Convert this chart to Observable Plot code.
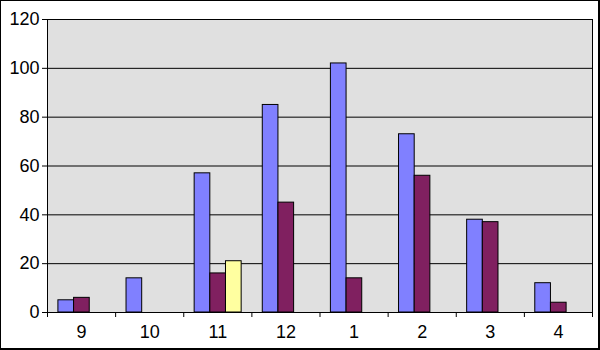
<!DOCTYPE html>
<html><head><meta charset="utf-8">
<script src="https://cdn.jsdelivr.net/npm/d3@7"></script>
<script src="https://cdn.jsdelivr.net/npm/@observablehq/plot@0.6"></script>
<style>
body{margin:0;background:#fff}
#wrap{position:relative;width:600px;height:350px;overflow:hidden}
#border{position:absolute;left:0;top:0;width:600px;height:350px;box-sizing:border-box;border-left:1px solid #000;border-top:1px solid #000;border-right:2px solid #000;border-bottom:2px solid #000;pointer-events:none}
</style></head><body><div id="wrap"><div id="border"></div></div>
<script>
const categories = ["9","10","11","12","1","2","3","4"];
const seriesNames = ["Series1","Series2","Series3"];
const series1 = [5,14,57,85,102,73,38,12];
const series2 = [6,null,16,45,14,56,37,4];
const series3 = [null,null,21,null,null,null,null,null];
const colors = ["#8080FF","#802060","#FFFFA0"];
const yTicks = [0,20,40,60,80,100,120];

const rows = [];
[series1,series2,series3].forEach((vals,s)=>vals.forEach((v,i)=>{
  if (v != null) rows.push({i, s, category: categories[i], series: seriesNames[s], value: v});
}));

const groupStart = 0.16, barW = 0.23;
const chart = Plot.plot({
  width: 600, height: 350,
  marginLeft: 47, marginRight: 8, marginTop: 19, marginBottom: 38,
  style: {fontFamily: "'Liberation Sans', Arial, sans-serif", fontSize: "18px", color: "#000", background: "transparent", overflow: "visible"},
  x: {type: "linear", domain: [0, categories.length]},
  y: {domain: [0, 120]},
  color: {domain: seriesNames, range: colors},
  marks: [
    Plot.frame({fill: "#E0E0E0", stroke: "none"}),
    Plot.ruleY(yTicks, {stroke: "#000", strokeWidth: 1}),
    Plot.rectY(rows, {
      x1: d => d.i + groupStart + d.s * barW,
      x2: d => d.i + groupStart + (d.s + 1) * barW,
      y: "value", fill: "series", stroke: "#000", strokeWidth: 1
    }),
    Plot.frame({stroke: "#000"}),
    Plot.axisY({ticks: yTicks, tickSize: 5, tickPadding: 3, label: null, fontSize: 18}),
    Plot.axisX({ticks: d3.range(categories.length + 1), tickSize: 5, tickFormat: () => "", label: null}),
    Plot.axisX({ticks: categories.map((c, i) => i + 0.5), tickSize: 0, tickPadding: 13, tickFormat: t => categories[Math.floor(t)], label: null, fontSize: 18})
  ]
});
document.getElementById("wrap").prepend(chart);
</script></body></html>
